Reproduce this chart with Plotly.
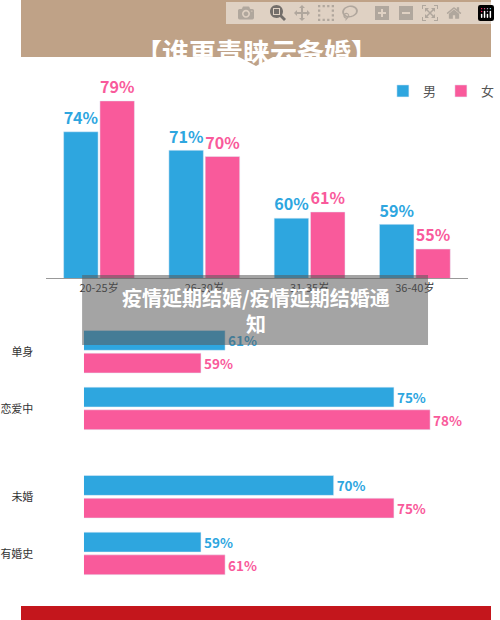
import plotly.graph_objects as go

age_groups = ["20-25岁", "26-30岁", "31-35岁", "36-40岁"]
age_male = [74, 71, 60, 59]
age_female = [79, 70, 61, 55]

status_groups = ["单身", "恋爱中", "未婚", "有婚史"]
status_male = [61, 75, 70, 59]
status_female = [59, 78, 75, 61]
status_pos = [0, 1, 2.56, 3.56]

BLUE = "#2ea6df"
PINK = "#f95a9b"
FONT = "Noto Sans CJK SC"

fig = go.Figure()
fig.add_bar(x=age_groups, y=age_male, name="男", marker_color=BLUE,
            texttemplate="<b>%{y}%</b>", textposition="outside",
            textfont=dict(color=BLUE, size=17, family=FONT), cliponaxis=False,
            xaxis="x", yaxis="y")
fig.add_bar(x=age_groups, y=age_female, name="女", marker_color=PINK,
            texttemplate="<b>%{y}%</b>", textposition="outside",
            textfont=dict(color=PINK, size=17, family=FONT), cliponaxis=False,
            xaxis="x", yaxis="y")
fig.add_bar(y=status_pos, x=status_male, orientation="h", marker_color=BLUE,
            width=0.35, offset=-0.38, showlegend=False,
            texttemplate="<b>%{x}%</b>", textposition="outside",
            textfont=dict(color=BLUE, size=17, family=FONT), cliponaxis=False,
            xaxis="x2", yaxis="y2")
fig.add_bar(y=status_pos, x=status_female, orientation="h", marker_color=PINK,
            width=0.35, offset=0.02, showlegend=False,
            texttemplate="<b>%{x}%</b>", textposition="outside",
            textfont=dict(color=PINK, size=17, family=FONT), cliponaxis=False,
            xaxis="x2", yaxis="y2")

H = 620
fig.update_layout(
    width=500, height=H, margin=dict(l=0, r=0, t=0, b=0),
    paper_bgcolor="white", plot_bgcolor="white",
    font=dict(family=FONT, color="#333"),
    barmode="group", bargap=0.31, bargroupgap=0.05,
    showlegend=True,
    legend=dict(orientation="h", x=0.77, y=(H-91)/H, xanchor="left", yanchor="middle",
                font=dict(size=13, color="#555"), itemwidth=30, traceorder="normal"),
    xaxis=dict(domain=[27/500, 475/500], anchor="y", showline=True, linecolor="#999",
               ticks="", tickfont=dict(size=11, color="#333")),
    yaxis=dict(domain=[(H-278)/H, (H-75)/H], range=[50.3, 83.2], visible=False),
    xaxis2=dict(domain=[67/500, 475/500], anchor="y2", range=[49.3, 81.1], visible=False),
    yaxis2=dict(domain=[(H-590)/H, (H-318)/H], range=[4.2, -0.6],
                tickvals=status_pos, ticktext=status_groups, showline=False,
                ticks="", ticklabelstandoff=12, tickfont=dict(size=11, color="#333")),
    shapes=[
        dict(type="rect", xref="paper", yref="paper", x0=0, x1=1, y0=(H-57)/H, y1=1,
             fillcolor="#bfa287", line_width=0, layer="below"),
        dict(type="path", xref="paper", yref="paper",
             path=f"M {232/500} {(H-57)/H} L {250/500} {(H-66)/H} L {268/500} {(H-57)/H} Z",
             fillcolor="#bfa287", line_width=0),
        dict(type="rect", xref="paper", yref="paper", x0=0, x1=1, y0=0, y1=14/H,
             fillcolor="#c4161c", line_width=0),
        dict(type="rect", xref="paper", yref="paper", x0=65/500, x1=433/500,
             y0=(H-345)/H, y1=(H-275)/H, fillcolor="rgba(90,90,90,0.55)", line_width=0),
    ],
    annotations=[
        dict(text="<b>【谁更青睐云备婚】</b>", xref="paper", yref="paper", x=0.5, y=(H-30)/H,
             showarrow=False, font=dict(size=27, color="white", family=FONT)),
        dict(text="<b>疫情延期结婚/疫情延期结婚通<br>知</b>", xref="paper", yref="paper",
             x=0.5, y=(H-310)/H, showarrow=False, align="center",
             font=dict(size=20, color="white", family=FONT)),
    ],
)
fig.write_html("out.html")
with open("out.html", encoding="utf-8") as f:
    html = f.read()
html = html.replace("<head>", "<head><style>html,body{margin:0;padding:0;overflow:hidden;}</style>", 1)
with open("out.html", "w", encoding="utf-8") as f:
    f.write(html)
